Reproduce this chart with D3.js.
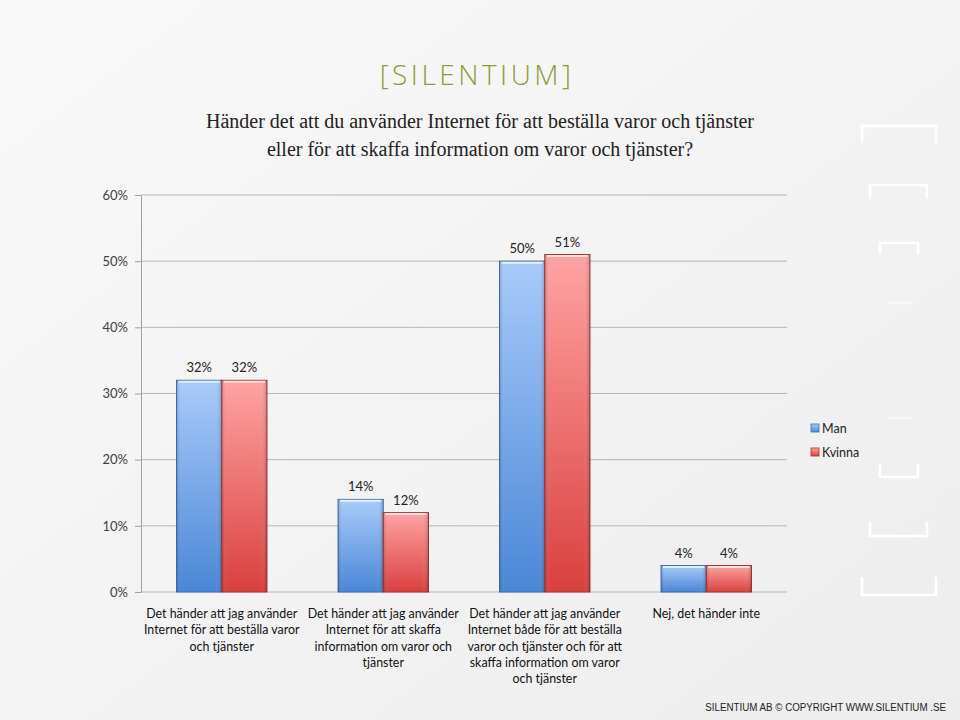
<!DOCTYPE html>
<html><head><meta charset="utf-8">
<script src="https://cdn.jsdelivr.net/npm/d3@7"></script>
<style>body{margin:0;background:#f2f2f2}svg{display:block}</style>
</head><body>
<script>
const categories = [
  ["Det händer att jag använder","Internet för att beställa varor","och tjänster"],
  ["Det händer att jag använder","Internet för att skaffa","information om varor och","tjänster"],
  ["Det händer att jag använder","Internet både för att beställa","varor och tjänster och för att","skaffa information om varor","och tjänster"],
  ["Nej, det händer inte"]
];
const seriesNames = ["Man","Kvinna"];
const man = [32, 14, 50, 4];
const kvinna = [32, 12, 51, 4];
const yTicks = [0,10,20,30,40,50,60];

const W=960,H=720;
const svg=d3.select("body").append("svg").attr("width",W).attr("height",H);
const defs=svg.append("defs");
const bg=defs.append("linearGradient").attr("id","bg").attr("x1",0).attr("y1",0).attr("x2",1).attr("y2",1);
bg.append("stop").attr("offset","0%").attr("stop-color","#f9f9f9");
bg.append("stop").attr("offset","100%").attr("stop-color","#ededed");
svg.append("rect").attr("width",W).attr("height",H).attr("fill","url(#bg)");

function grad(id,top,bot){
  const g=defs.append("linearGradient").attr("id",id).attr("x1",0).attr("y1",0).attr("x2",0).attr("y2",1);
  g.append("stop").attr("offset","0%").attr("stop-color",top);
  g.append("stop").attr("offset","100%").attr("stop-color",bot);
  const h=defs.append("linearGradient").attr("id",id+"h").attr("x1",0).attr("y1",0).attr("x2",1).attr("y2",0);
  h.append("stop").attr("offset","0%").attr("stop-color","#000").attr("stop-opacity",0.18);
  h.append("stop").attr("offset","12%").attr("stop-color","#fff").attr("stop-opacity",0.0);
  h.append("stop").attr("offset","85%").attr("stop-color","#fff").attr("stop-opacity",0.0);
  h.append("stop").attr("offset","100%").attr("stop-color","#000").attr("stop-opacity",0.2);
}
grad("gm","#a9cbfa","#4a86d6");
grad("gk","#ffa3a3","#d9403e");
const fills=["url(#gm)","url(#gk)"], strokes=["#3d6fb0","#a83332"];

// decorative brackets
const br=[[862,936,126,143,1],[870,927,185,199,1],[880,918,243,254,1],[888,912,303,303,0.5],
          [888,912,418,418,0.5],[880,918,477,464,1],[870,927,536,522,1],[862,936,595,577,1]];
br.forEach(b=>{
  svg.append("path").attr("d",`M${b[0]},${b[3]}V${b[2]}H${b[1]}V${b[3]}`)
    .attr("fill","none").attr("stroke","#fff").attr("stroke-width",2.5).attr("opacity",b[4]);
});

// logo
svg.append("text").attr("x",477).attr("y",85).attr("text-anchor","middle")
  .attr("font-family","'Open Sans',sans-serif").attr("font-size",28).attr("font-weight",300)
  .attr("letter-spacing",3.5).attr("fill","#8b9c3c").text("[SILENTIUM]");

// title
const title=["Händer det att du använder Internet för att beställa varor och tjänster","eller för att skaffa information om varor och tjänster?"];
svg.append("text").attr("text-anchor","middle").attr("font-family","'Liberation Serif',serif")
  .attr("font-size",20).attr("fill","#222")
  .selectAll("tspan").data(title).join("tspan").attr("x",480).attr("y",(d,i)=>128+i*28).text(d=>d);

const m={l:141,r:787,t:195,b:592};
const x=d3.scaleBand().domain(d3.range(categories.length)).range([m.l,m.r]).paddingInner(0.44).paddingOuter(0.22);
const xs=d3.scaleBand().domain([0,1]).range([0,x.bandwidth()]);
const y=d3.scaleLinear().domain([0,60]).range([m.b,m.t]);

// grid
svg.append("g").selectAll("line").data(yTicks).join("line")
  .attr("x1",m.l).attr("x2",m.r).attr("y1",d=>y(d)).attr("y2",d=>y(d))
  .attr("stroke","#b5b5b5").attr("stroke-width",1);

const yAxis=svg.append("g").attr("transform",`translate(${m.l},0)`)
  .call(d3.axisLeft(y).tickValues(yTicks).tickFormat(d=>d+"%").tickSize(6).tickPadding(7));
yAxis.select(".domain").attr("stroke","#a0a0a0");
yAxis.selectAll(".tick line").attr("stroke","#a0a0a0");
yAxis.selectAll("text").attr("font-family","Lato,'Open Sans',sans-serif").attr("font-size",13).attr("fill","#404040");

const data=[man,kvinna];
const labelFont="Lato,'Open Sans',sans-serif";
data.forEach((s,si)=>{
  const g=svg.append("g");
  s.forEach((v,i)=>{
    const bx=x(i)+xs(si), bw=xs.bandwidth(), by=y(v), bh=y(0)-y(v);
    g.append("rect").attr("x",bx).attr("y",by).attr("width",bw).attr("height",bh)
      .attr("fill",fills[si]).attr("stroke",strokes[si]).attr("stroke-width",1);
    g.append("rect").attr("x",bx).attr("y",by).attr("width",bw).attr("height",bh)
      .attr("fill",(si?"url(#gkh)":"url(#gmh)"));
    g.append("line").attr("x1",bx+2).attr("x2",bx+bw-2).attr("y1",by+1.5).attr("y2",by+1.5)
      .attr("stroke","#fff").attr("stroke-opacity",0.7).attr("stroke-width",2);
    g.append("text").attr("x",bx+bw/2).attr("y",by-8).attr("text-anchor","middle")
      .attr("font-family",labelFont).attr("font-size",13).attr("fill","#222").text(v+"%");
  });
});

// category labels
categories.forEach((lines,i)=>{
  svg.append("text").attr("text-anchor","middle").attr("font-family",labelFont).attr("font-size",12.4).attr("fill","#111")
    .selectAll("tspan").data(lines).join("tspan").attr("x",x(i)+x.bandwidth()/2).attr("y",(d,j)=>618+j*16.3).text(d=>d);
});

// legend
seriesNames.forEach((n,i)=>{
  const ly=429+i*24;
  svg.append("rect").attr("x",811).attr("y",ly-5).attr("width",8).attr("height",8)
    .attr("fill",fills[i]).attr("stroke",strokes[i]).attr("stroke-width",0.8);
  svg.append("text").attr("x",822).attr("y",ly+4).attr("font-family",labelFont).attr("font-size",12.5).attr("fill","#222").text(n);
});

// footer
svg.append("g").attr("transform","translate(946,711) scale(0.85,1)")
  .append("text").attr("x",0).attr("y",0).attr("text-anchor","end").attr("font-family","'Liberation Sans',Arial,sans-serif")
  .attr("font-size",11.5).attr("fill","#222")
  .text("SILENTIUM AB © COPYRIGHT WWW.SILENTIUM .SE");
</script>
</body></html>
